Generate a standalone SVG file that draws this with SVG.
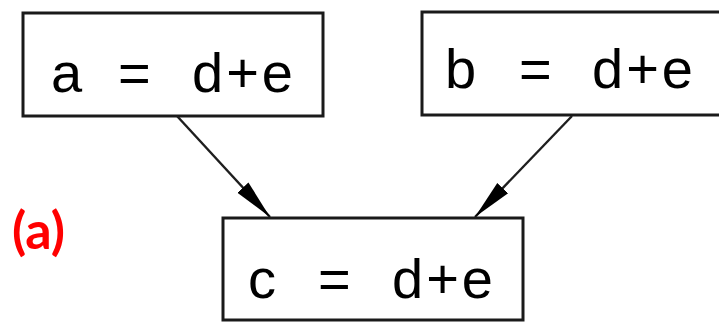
<svg xmlns="http://www.w3.org/2000/svg" width="719" height="323" viewBox="0 0 719 323">
  <style>
    .box { fill: #ffffff; stroke: #1a1a1a; stroke-width: 3; }
    .lbl { font-family: "Liberation Sans", Arial, sans-serif; font-size: 56px; fill: #000000; }
    .edge { stroke: #1e1e1e; stroke-width: 2.4; fill: none; marker-end: url(#head); }
    .tag { font-family: Lato, "Open Sans", sans-serif; font-weight: bold; font-size: 52px; fill: #ff0000; }
  </style>
  <defs>
    <marker id="head" markerUnits="userSpaceOnUse" markerWidth="42" markerHeight="18" refX="40" refY="9" orient="auto">
      <path d="M0,1.5 L40,9 L0,16.5 Z" fill="#000000"/>
    </marker>
  </defs>
  <rect width="719" height="323" fill="#ffffff"/>

  <g id="node-a">
    <rect class="box" x="23" y="13" width="300" height="103"/>
    <text class="lbl" y="92"><tspan x="51">a</tspan><tspan x="118">=</tspan><tspan x="192" letter-spacing="3">d+e</tspan></text>
  </g>

  <g id="node-b">
    <rect class="box" x="422" y="12" width="310" height="103"/>
    <text class="lbl" y="88"><tspan x="445">b</tspan><tspan x="519">=</tspan><tspan x="592" letter-spacing="3">d+e</tspan></text>
  </g>

  <g id="node-c">
    <rect class="box" x="223" y="218" width="300" height="102"/>
    <text class="lbl" y="298"><tspan x="248">c</tspan><tspan x="318">=</tspan><tspan x="392" letter-spacing="3">d+e</tspan></text>
  </g>

  <g id="connectors">
    <line class="edge" x1="177" y1="116" x2="270" y2="217"/>
    <line class="edge" x1="572" y1="116" x2="475" y2="217"/>
  </g>

  <text class="tag" x="12" y="249">(a)</text>
</svg>
